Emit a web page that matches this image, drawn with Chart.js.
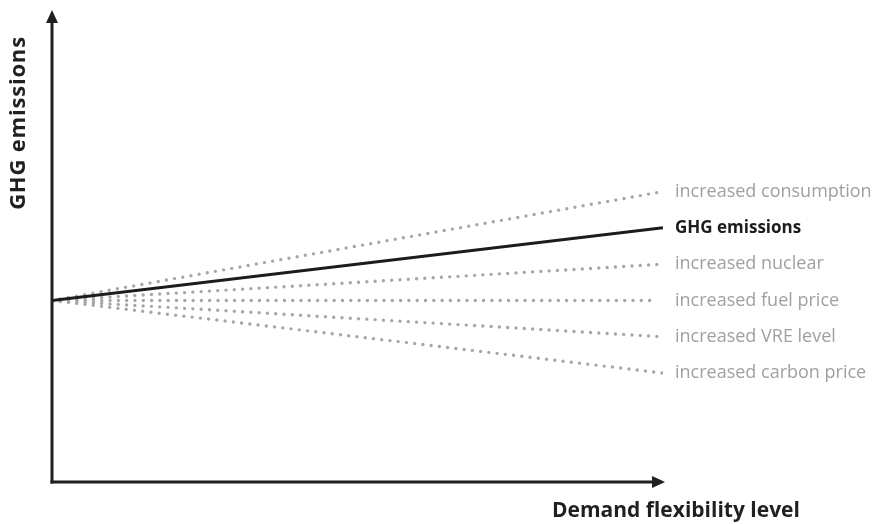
<!DOCTYPE html>
<html lang="en">
    <head>
        <meta charset="UTF-8" />
        <title>GHG emissions vs demand flexibility</title>
        <script src="https://cdn.jsdelivr.net/npm/chart.js"></script>
        <style>
            body { margin: 0; background: #fff; }
        </style>
    </head>
    <body>
        <canvas id="ghg" width="874" height="524"></canvas>

        <script>
            // Scenario lines: all start from the same level at zero flexibility
            const scenarios = [
                "increased consumption",
                "GHG emissions",
                "increased nuclear",
                "increased fuel price",
                "increased VRE level",
                "increased carbon price",
            ];
            const flexStart = [0, 0, 0, 0, 0, 0];
            const flexEnd = [1, 1, 1, 0.99, 1, 1];
            const emisStart = [5, 5, 5, 5, 5, 5];
            const emisEnd = [8, 7, 6, 5, 4, 3];
            const mainLine = "GHG emissions";

            const axisColor = "#231f20";
            const grey = "#a6a6a6";

            const datasets = scenarios.map((name, i) => {
                const main = name === mainLine;
                return {
                    label: name,
                    data: [
                        { x: flexStart[i], y: emisStart[i] },
                        { x: flexEnd[i], y: emisEnd[i] },
                    ],
                    borderColor: main ? "#1c1c1c" : grey,
                    borderWidth: main ? 3 : 3.4,
                    borderDash: main ? [] : [0, 8.3],
                    borderCapStyle: main ? "butt" : "round",
                    pointRadius: 0,
                    tension: 0,
                    order: main ? 0 : 1,
                };
            });

            // Draws the two arrow axes, their titles and the line labels
            const decor = {
                id: "decor",
                afterDatasetsDraw(chart) {
                    const { ctx, chartArea: a, scales } = chart;
                    const x0 = a.left, y0 = a.bottom;
                    ctx.save();
                    ctx.strokeStyle = axisColor;
                    ctx.fillStyle = axisColor;
                    ctx.lineWidth = 3;
                    ctx.lineCap = "butt";

                    // y axis
                    ctx.beginPath();
                    ctx.moveTo(x0, y0 + 1.5);
                    ctx.lineTo(x0, a.top + 10);
                    ctx.stroke();
                    ctx.beginPath();
                    ctx.moveTo(x0, a.top);
                    ctx.lineTo(x0 - 6, a.top + 13);
                    ctx.lineTo(x0 + 6, a.top + 13);
                    ctx.closePath();
                    ctx.fill();

                    // x axis
                    const tip = a.right + 2;
                    ctx.beginPath();
                    ctx.moveTo(x0 - 1.5, y0);
                    ctx.lineTo(tip - 10, y0);
                    ctx.stroke();
                    ctx.beginPath();
                    ctx.moveTo(tip, y0);
                    ctx.lineTo(tip - 13, y0 - 6);
                    ctx.lineTo(tip - 13, y0 + 6);
                    ctx.closePath();
                    ctx.fill();

                    // axis titles
                    ctx.textBaseline = "middle";
                    ctx.textAlign = "left";
                    ctx.font = "bold 21px 'Open Sans'";
                    ctx.fillText("Demand flexibility level", 552, 511);
                    ctx.save();
                    ctx.translate(19, 123);
                    ctx.rotate(-Math.PI / 2);
                    ctx.textAlign = "center";
                    ctx.font = "bold 22px 'Open Sans'";
                    ctx.letterSpacing = "0.8px";
                    ctx.fillText("GHG emissions", 0, 0);
                    ctx.restore();

                    // line end labels
                    scenarios.forEach((name, i) => {
                        const main = name === mainLine;
                        const py = scales.y.getPixelForValue(emisEnd[i]);
                        ctx.font = main ? "bold 17px 'Open Sans'" : "18px 'Open Sans'";
                        ctx.fillStyle = main ? "#1c1c1c" : "#a0a0a0";
                        ctx.textAlign = "left";
                        ctx.fillText(name, a.right + 12, py);
                    });
                    ctx.restore();
                },
            };

            new Chart(document.getElementById("ghg"), {
                type: "line",
                data: { datasets },
                options: {
                    responsive: false,
                    animation: false,
                    layout: { padding: { left: 52, right: 211, top: 10, bottom: 42 } },
                    scales: {
                        x: { type: "linear", min: 0, max: 1, display: false },
                        y: { min: 0, max: 13, display: false },
                    },
                    plugins: {
                        legend: { display: false },
                        tooltip: { enabled: false },
                    },
                },
                plugins: [decor],
            });
        </script>
    </body>
</html>
